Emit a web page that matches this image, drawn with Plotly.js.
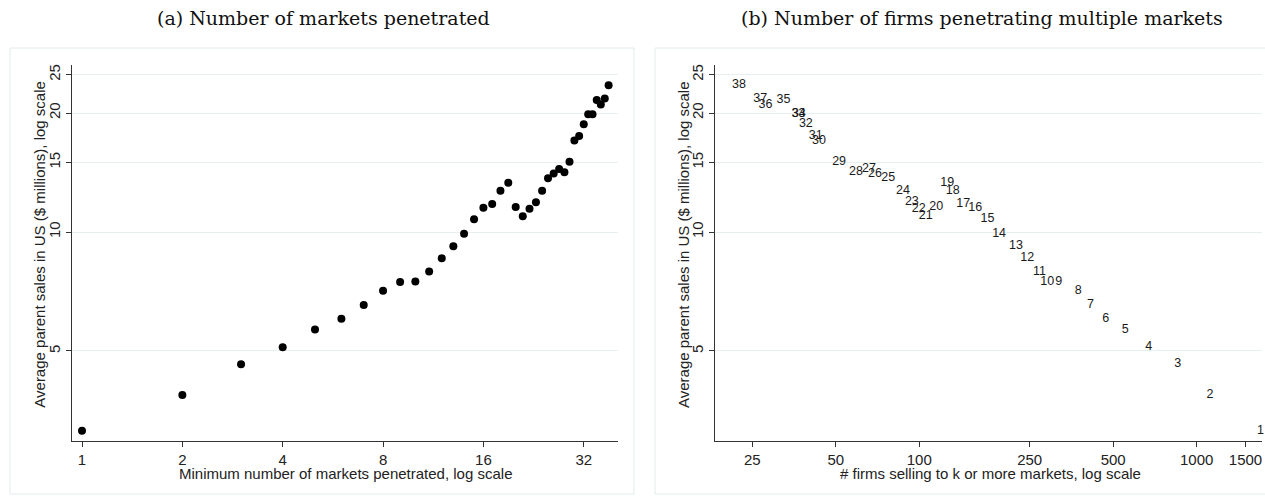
<!DOCTYPE html>
<html>
<head>
<meta charset="utf-8">
<script src="https://cdn.plot.ly/plotly-3.0.1.min.js"></script>
<style>html,body{margin:0;padding:0;background:#fff;}#chart{width:1265px;height:496px;}</style>
</head>
<body>
<div id="chart"></div>
<script>
// Minimum number of markets penetrated (k)
const markets = [1,2,3,4,5,6,7,8,9,10,11,12,13,14,15,16,17,18,19,20,21,22,23,24,25,26,27,28,29,30,31,32,33,34,35,36,37,38];
// Average parent sales in US ($ millions)
const avgSales = [3.14,3.87,4.63,5.11,5.67,6.03,6.54,7.10,7.47,7.50,7.95,8.58,9.21,9.90,10.77,11.52,11.77,12.72,13.33,11.57,10.96,11.45,11.89,12.72,13.67,14.07,14.43,14.16,15.06,17.05,17.49,18.72,19.85,19.85,21.57,21.03,21.78,23.50];
// # firms selling to k or more markets
const nFirms = [1700,1117,855,672,553,470,414,374,318,289,271,245,223,194,176,159,144,132,126,115,105.5,99.5,94,87.3,77.3,69.2,65.9,59.1,51.4,43.5,42.3,39.0,36.7,36.8,32.4,27.9,26.7,22.4];

const xTicksA = [1,2,4,8,16,32];
const xTicksB = [25,50,100,250,500,1000,1500];
const yTicks = [5,10,15,20,25];

const W = 1265, H = 496;
const px = v => v / W;
const py = v => 1 - v / H;

const sans = 'Liberation Sans, Arial, Helvetica, sans-serif';
const serif = 'DejaVu Serif, Liberation Serif, serif';
const axisCol = '#333333';
const gridCol = '#e8eff1';
const frameCol = '#e2ebed';

const traces = [
  {
    x: markets, y: avgSales, type: 'scatter', mode: 'markers',
    xaxis: 'x', yaxis: 'y',
    marker: {color: '#000000', size: 8, line: {width: 0}},
    hoverinfo: 'x+y'
  },
  {
    x: nFirms, y: avgSales, type: 'scatter', mode: 'text',
    xaxis: 'x2', yaxis: 'y2',
    text: markets.map(String),
    textposition: 'middle center',
    textfont: {family: sans, size: 12.5, color: '#1a1a1a'},
    cliponaxis: false,
    hoverinfo: 'x+y+text'
  }
];

const commonX = {
  type: 'log', tickmode: 'array', showline: true, linecolor: axisCol, linewidth: 1,
  ticks: 'outside', ticklen: 5, tickcolor: axisCol, tickwidth: 1,
  showgrid: false, zeroline: false, automargin: false,
  tickfont: {family: sans, size: 15, color: '#222222'}
};
const commonY = {
  type: 'log', tickmode: 'array', tickvals: yTicks, ticktext: yTicks.map(String),
  range: [0.472, 1.4225], domain: [py(440.7), py(65)],
  showline: true, linecolor: axisCol, linewidth: 1,
  ticks: 'outside', ticklen: 5, tickcolor: axisCol, tickwidth: 1,
  showgrid: true, gridcolor: gridCol, gridwidth: 1, zeroline: false, automargin: false,
  tickangle: -90,
  tickfont: {family: sans, size: 15, color: '#222222'}
};

const layout = {
  width: W, height: H,
  margin: {l: 0, r: 0, t: 0, b: 0, pad: 0},
  paper_bgcolor: '#ffffff', plot_bgcolor: '#ffffff',
  showlegend: false,
  xaxis: Object.assign({}, commonX, {
    domain: [px(72), px(618.3)], range: [-0.0300, 1.6088], anchor: 'y',
    tickvals: xTicksA, ticktext: xTicksA.map(String)
  }),
  yaxis: Object.assign({}, commonY, {anchor: 'x'}),
  xaxis2: Object.assign({}, commonX, {
    domain: [px(715.3), px(1262)], range: [1.2646, 3.2355], anchor: 'y2',
    tickvals: xTicksB, ticktext: xTicksB.map(String)
  }),
  yaxis2: Object.assign({}, commonY, {anchor: 'x2'}),
  shapes: [
    {type: 'rect', xref: 'paper', yref: 'paper', x0: px(10), x1: px(634), y0: py(494), y1: py(48),
     line: {color: frameCol, width: 1}, fillcolor: 'rgba(0,0,0,0)', layer: 'below'},
    {type: 'rect', xref: 'paper', yref: 'paper', x0: px(655), x1: px(1310), y0: py(494), y1: py(48),
     line: {color: frameCol, width: 1}, fillcolor: 'rgba(0,0,0,0)', layer: 'below'}
  ],
  annotations: [
    {text: '(a) Number of markets penetrated', xref: 'paper', yref: 'paper', x: px(323), y: py(18),
     xanchor: 'center', yanchor: 'middle', showarrow: false, font: {family: serif, size: 19, color: '#111'}},
    {text: '(b) Number of firms penetrating multiple markets', xref: 'paper', yref: 'paper', x: px(982), y: py(18),
     xanchor: 'center', yanchor: 'middle', showarrow: false, font: {family: serif, size: 19, color: '#111'}},
    {text: 'Minimum number of markets penetrated, log scale', xref: 'paper', yref: 'paper', x: px(345), y: py(473),
     xanchor: 'center', yanchor: 'middle', showarrow: false, font: {family: sans, size: 15, color: '#222'}},
    {text: '# firms selling to k or more markets, log scale', xref: 'paper', yref: 'paper', x: px(990), y: py(473),
     xanchor: 'center', yanchor: 'middle', showarrow: false, font: {family: sans, size: 15, color: '#222'}},
    {text: 'Average parent sales in US ($ millions), log scale', xref: 'paper', yref: 'paper', x: px(72 - 32), y: py(244.7),
     xanchor: 'center', yanchor: 'middle', textangle: -90, showarrow: false, font: {family: sans, size: 15, color: '#222'}},
    {text: 'Average parent sales in US ($ millions), log scale', xref: 'paper', yref: 'paper', x: px(715.3 - 32), y: py(244.7),
     xanchor: 'center', yanchor: 'middle', textangle: -90, showarrow: false, font: {family: sans, size: 15, color: '#222'}}
  ]
};

Plotly.newPlot('chart', traces, layout, {displayModeBar: false, staticPlot: true});
</script>
</body>
</html>
